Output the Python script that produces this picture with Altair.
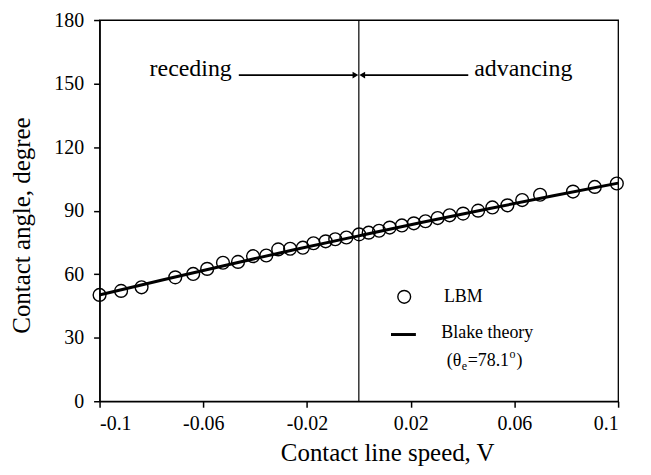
import altair as alt
import pandas as pd

# LBM data (contact line speed V, contact angle in degrees)
lbm_v = [-0.1, -0.0917, -0.0838, -0.0708, -0.0639, -0.0585, -0.0524, -0.0466, -0.0408, -0.0357,
         -0.0311, -0.0265, -0.0216, -0.0175, -0.0128, -0.0091, -0.0048, 0.0001, 0.0038, 0.0078,
         0.0119, 0.0166, 0.0212, 0.0257, 0.0304, 0.035, 0.0402, 0.046, 0.0515, 0.0573,
         0.063, 0.0699, 0.0826, 0.091, 0.0995]
lbm_theta = [50.2, 52.1, 53.8, 58.5, 60.1, 62.5, 65.4, 65.8, 68.5, 68.8,
             71.7, 72.0, 72.5, 74.6, 75.5, 76.5, 77.3, 78.8, 79.6, 80.5,
             82.0, 83.0, 84.0, 85.0, 86.5, 87.8, 88.6, 90.0, 91.5, 92.5,
             95.0, 97.5, 99.0, 101.2, 102.8]

# Blake theory curve
blake_v = [-0.1, -0.075, -0.05, -0.025, 0.0, 0.025, 0.05, 0.075, 0.1]
blake_theta = [50.2, 57.5, 64.6, 71.5, 78.1, 84.6, 90.9, 97.0, 103.0]

x_ticks = [-0.1, -0.06, -0.02, 0.02, 0.06, 0.1]
y_ticks = [0, 30, 60, 90, 120, 150, 180]

FONT = "Liberation Serif"

xs = alt.Scale(domain=[-0.1, 0.1], nice=False, zero=False)
ys = alt.Scale(domain=[0, 180], nice=False)

lbm_df = pd.DataFrame({"v": lbm_v, "theta": lbm_theta})
blake_df = pd.DataFrame({"v": blake_v, "theta": blake_theta})

x_axis = alt.Axis(values=x_ticks, title="Contact line speed, V",
                  labelExpr="replace(format(datum.value, '.2~f'), '\u2212', '-')",
                  titleX=289, titleY=60, titleBaseline="alphabetic",
                  labelPadding=6)
y_axis = alt.Axis(values=y_ticks, title="Contact angle, degree",
                  titleAngle=270, titleX=-70, titleY=206, titleBaseline="alphabetic",
                  titleAlign="center", labelPadding=10)

base_points = alt.Chart(lbm_df).mark_point(
    shape="circle", filled=False, color="black", size=165, strokeWidth=1.4, opacity=1
).encode(
    x=alt.X("v:Q", scale=xs, axis=x_axis),
    y=alt.Y("theta:Q", scale=ys, axis=y_axis),
)

blake_line = alt.Chart(blake_df).mark_line(color="black", strokeWidth=3, interpolate="monotone").encode(
    x=alt.X("v:Q", scale=xs), y=alt.Y("theta:Q", scale=ys)
)

vline = alt.Chart(pd.DataFrame({"v": [0.0]})).mark_rule(color="black", strokeWidth=1.2).encode(
    x=alt.X("v:Q", scale=xs)
)

# arrows
arrow_df = pd.DataFrame({"x": [-0.0463, 0.0422], "x2": [-0.0015, 0.0015], "y": [154.0, 154.0]})
arrow_lines = alt.Chart(arrow_df).mark_rule(color="black", strokeWidth=1.8).encode(
    x=alt.X("x:Q", scale=xs), x2="x2:Q", y=alt.Y("y:Q", scale=ys)
)
head_r = alt.Chart(pd.DataFrame({"x": [-0.0013], "y": [154.0]})).mark_point(
    shape="triangle-right", filled=True, color="black", size=45, opacity=1
).encode(x=alt.X("x:Q", scale=xs), y=alt.Y("y:Q", scale=ys))
head_l = alt.Chart(pd.DataFrame({"x": [0.0013], "y": [154.0]})).mark_point(
    shape="triangle-left", filled=True, color="black", size=45, opacity=1
).encode(x=alt.X("x:Q", scale=xs), y=alt.Y("y:Q", scale=ys))

rec_txt = alt.Chart(pd.DataFrame({"x": [-0.049], "y": [153.6], "t": ["receding"]})).mark_text(
    font=FONT, fontSize=24, align="right", baseline="alphabetic", color="black"
).encode(x=alt.X("x:Q", scale=xs), y=alt.Y("y:Q", scale=ys), text="t:N")
adv_txt = alt.Chart(pd.DataFrame({"x": [0.0445], "y": [153.6], "t": ["advancing"]})).mark_text(
    font=FONT, fontSize=24, align="left", baseline="alphabetic", color="black"
).encode(x=alt.X("x:Q", scale=xs), y=alt.Y("y:Q", scale=ys), text="t:N")

# legend
leg_pt = alt.Chart(pd.DataFrame({"x": [0.0175], "y": [49.3]})).mark_point(
    shape="circle", filled=False, color="black", size=165, strokeWidth=1.4, opacity=1
).encode(x=alt.X("x:Q", scale=xs), y=alt.Y("y:Q", scale=ys))
leg_line = alt.Chart(pd.DataFrame({"x": [0.0124], "x2": [0.022], "y": [31.5]})).mark_rule(
    color="black", strokeWidth=3
).encode(x=alt.X("x:Q", scale=xs), x2="x2:Q", y=alt.Y("y:Q", scale=ys))
leg_txt = alt.Chart(pd.DataFrame({"x": [0.0328, 0.0318], "y": [49.3, 32.4],
                                  "t": ["LBM", "Blake theory"]})).mark_text(
    font=FONT, fontSize=18, align="left", baseline="middle", color="black"
).encode(x=alt.X("x:Q", scale=xs), y=alt.Y("y:Q", scale=ys), text="t:N")

theta_parts = [
    ("(\u03b8", 18, 0, 0),
    ("e", 12, 15, 5),
    ("=78.1", 18, 21, 0),
    ("o", 12, 63, -7),
    (")", 18, 70, 0),
]
theta_layers = []
for txt, fs, dx, dy in theta_parts:
    theta_layers.append(
        alt.Chart(pd.DataFrame({"x": [0.0339], "y": [18.8], "t": [txt]})).mark_text(
            font=FONT, fontSize=fs, align="left", baseline="middle", color="black", dx=dx, dy=dy
        ).encode(x=alt.X("x:Q", scale=xs), y=alt.Y("y:Q", scale=ys), text="t:N")
    )

chart = alt.layer(
    base_points, vline, blake_line, arrow_lines, head_r, head_l, rec_txt, adv_txt,
    leg_pt, leg_line, leg_txt, *theta_layers
).properties(
    width=521, height=383,
    background="white",
    autosize=alt.AutoSizeParams(type="none"),
    padding={"left": 92, "top": 11, "right": 25, "bottom": 70},
).configure_view(
    stroke="black", strokeWidth=1.3
).configure_axis(
    domainColor="black", domainWidth=1.5, tickColor="black", tickWidth=1.5, tickSize=6,
    labelFont=FONT, labelFontSize=20, labelColor="black",
    titleFont=FONT, titleFontSize=25, titleColor="black", titleFontWeight="normal",
    grid=False
)

chart.save("out.html", embed_options={"renderer": "svg", "actions": False})
